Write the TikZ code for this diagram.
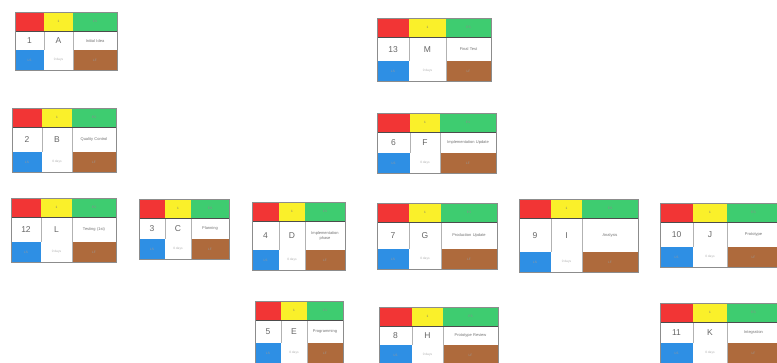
\documentclass[tikz,border=0pt]{standalone}
\usepackage{fontspec}
\setmainfont{Liberation Sans}
\definecolor{cred}{HTML}{F23535}
\definecolor{cyel}{HTML}{FAF02A}
\definecolor{cgrn}{HTML}{3ECC70}
\definecolor{cblu}{HTML}{2E8FE4}
\definecolor{cbrn}{HTML}{AE6A3C}
\tikzset{
  cell/.style={anchor=north west,inner sep=0pt,outer sep=0pt,draw=none,align=center},
  tiny/.style={font=\fontsize{3.2}{3.6}\selectfont},
  idtxt/.style={font=\fontsize{8.5}{9.5}\selectfont,text=black!60},
  tasktxt/.style={font=\fontsize{4}{4.8}\selectfont,text=black!55},
  outline/.style={draw=black!45,line width=0.5pt},
  divider/.style={draw=black!30,line width=0.4pt}
}
% #1 name, #2 x, #3 y, #4 c1, #5 c2, #6 c3, #7 total height, #8 number, #9 letter; task in \tk
\newcommand\actbox[9]{%
  \pgfmathsetmacro\hm{#7-39.5}%
  \begin{scope}[shift={(#2,#3)}]
    \node[cell,fill=cred,minimum width=#4pt,minimum height=19.5pt] (#1-es) at (0,0) {};
    \node[cell,fill=cyel,minimum width=#5pt,minimum height=19.5pt,tiny,text=black!55] (#1-du) at (#4,0) {1};
    \node[cell,fill=cgrn,minimum width=#6pt,minimum height=19.5pt,tiny,text=black!45] (#1-ef) at (#4+#5,0) {ES};
    \node[cell,fill=white,minimum width=#4pt,minimum height=\hm pt,idtxt] (#1-n) at (0,19.5) {#8};
    \node[cell,fill=white,minimum width=#5pt,minimum height=\hm pt,idtxt] (#1-l) at (#4,19.5) {#9};
    \node[cell,fill=white,minimum width=#6pt,minimum height=\hm pt,tasktxt,text width=#6pt-4pt] (#1-t) at (#4+#5,19.5) {\tk};
    \node[cell,fill=cblu,minimum width=#4pt,minimum height=20pt,tiny,text=black!40] (#1-ls) at (0,19.5+\hm) {LS};
    \node[cell,fill=white,minimum width=#5pt,minimum height=20pt,tiny,text=black!30] (#1-sl) at (#4,19.5+\hm) {0 days};
    \node[cell,fill=cbrn,minimum width=#6pt,minimum height=20pt,tiny,text=black!40] (#1-lf) at (#4+#5,19.5+\hm) {LF};
    \draw[divider] (#1-n.north east) -- (#1-n.south east);
    \draw[divider] (#1-l.north east) -- (#1-sl.south east);
    \draw[draw=black!70,line width=0.6pt] (#1-es.south west) -- (#1-ef.south east);
    \draw[outline] (#1-es.north west) rectangle (#1-lf.south east);
  \end{scope}}
\begin{document}
\begin{tikzpicture}[x=1pt,y=-1pt]
  \fill[white] (0,0) rectangle (777,363);
  \useasboundingbox (0,0) rectangle (777,363);
  \def\tk{Initial Idea}\actbox{A}{15}{12}{29}{29}{44}{58}{1}{A}
  \def\tk{Quality Control}\actbox{B}{12}{108}{30}{30}{44}{64}{2}{B}
  \def\tk{Testing (1st)}\actbox{L}{11}{198}{30}{31}{44}{64}{12}{L}
  \def\tk{Planning}\actbox{C}{139}{199}{26}{26}{38}{60}{3}{C}
  \def\tk{Implementation\\phase}\actbox{D}{252}{202}{27}{26}{40}{68}{4}{D}
  \def\tk{Programming}\actbox{E}{255}{301}{26}{26}{36}{62}{5}{E}
  \def\tk{Final Test}\actbox{M}{377}{18}{32}{37}{45}{63}{13}{M}
  \def\tk{Implementation Update}\actbox{F}{377}{113}{33}{30}{56}{60}{6}{F}
  \def\tk{Production Update}\actbox{G}{377}{203}{32}{32}{56}{66}{7}{G}
  \def\tk{Prototype Review}\actbox{H}{379}{307}{33}{31}{55}{58}{8}{H}
  \def\tk{Analysis}\actbox{I}{519}{199}{32}{31}{56}{73}{9}{I}
  \def\tk{Prototype}\actbox{J}{660}{203}{33}{34}{53}{64}{10}{J}
  \def\tk{Integration}\actbox{K}{660}{303}{33}{34}{53}{60}{11}{K}
\end{tikzpicture}
\end{document}
